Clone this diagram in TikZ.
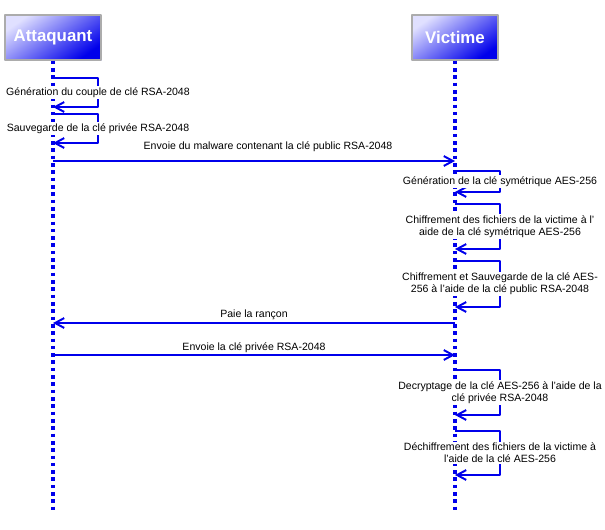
\documentclass[tikz,border=0pt]{standalone}
\usepackage{fontspec}
\setmainfont{Liberation Sans}
\usetikzlibrary{arrows.meta}
\definecolor{seqblue}{RGB}{0,0,235}
\begin{document}
\begin{tikzpicture}[x=0.025cm, y=-0.025cm, font=\fontsize{7.5}{8.5}\selectfont, line join=round,
  msg/.style={draw=seqblue, line width=1.4pt, -{Straight Barb[length=6.5pt,width=7pt,line width=1.4pt]}},
  lifeline/.style={draw=seqblue, line width=2.6pt, dash pattern=on 2.6pt off 2.6pt},
  actor/.style={draw=gray!65, line width=0.9pt, top color=blue!12!white, bottom color=seqblue,
    shading angle=35, text=white, font=\fontsize{12}{14}\selectfont\bfseries,
    minimum height=1.125cm, inner sep=0pt},
  lbl/.style={fill=white, inner sep=0.8pt, align=center}]
\def\xa{53} \def\xv{455} \def\loopw{45}
\useasboundingbox (0,0) rectangle (605,529);
% participants
\node[actor, minimum width=2.4cm] (att) at (\xa,37.5) {Attaquant};
\node[actor, minimum width=2.15cm] (vic) at (\xv,37.5) {Victime};
\coordinate (attend) at (\xa,512);
\coordinate (vicend) at (\xv,512);
\draw[lifeline] (att.south)--(attend);
\draw[lifeline] (vic.south)--(vicend);
% self messages of the attacker
\foreach \n/\ya/\yb/\txt in {1/78/107/{Génération du couple de clé RSA-2048},
  2/114/143/{Sauvegarde de la clé privée RSA-2048}}{
  \coordinate (as\n) at (\xa,\ya);
  \coordinate (ae\n) at (\xa,\yb);
  \draw[msg] (as\n)--++(\loopw,0)|-(ae\n);
  \node[lbl] (al\n) at (\xa+\loopw,{(\ya+\yb)/2}) {\txt};
}
% self messages of the victim
\foreach \n/\ya/\yb/\txt in {1/171/192/{Génération de la clé symétrique AES-256},
  2/204/249/{Chiffrement des fichiers de la victime à l'\\aide de la clé symétrique AES-256},
  3/261/307/{Chiffrement et Sauvegarde de la clé AES-\\256 à l'aide de la clé public RSA-2048},
  4/370/415/{Decryptage de la clé AES-256 à l'aide de la\\clé privée RSA-2048},
  5/431/475/{Déchiffrement des fichiers de la victime à\\l'aide de la clé AES-256}}{
  \coordinate (vs\n) at (\xv,\ya);
  \coordinate (ve\n) at (\xv,\yb);
  \draw[msg] (vs\n)--++(\loopw,0)|-(ve\n);
  \node[lbl] (vl\n) at (\xv+\loopw,{(\ya+\yb)/2}) {\txt};
}
% messages between the two
\coordinate (a1) at (\xa,161); \coordinate (v1) at (\xv,161);
\coordinate (a2) at (\xa,323); \coordinate (v2) at (\xv,323);
\coordinate (a3) at (\xa,355); \coordinate (v3) at (\xv,355);
\draw[msg] (a1)--(v1);
\draw[msg] (v2)--(a2);
\draw[msg] (a3)--(v3);
\node (t1) at (268,147) {Envoie du malware contenant la clé public RSA-2048};
\node (t2) at (254,315) {Paie la rançon};
\node (t3) at (254,348) {Envoie la clé privée RSA-2048};
\end{tikzpicture}
\end{document}
